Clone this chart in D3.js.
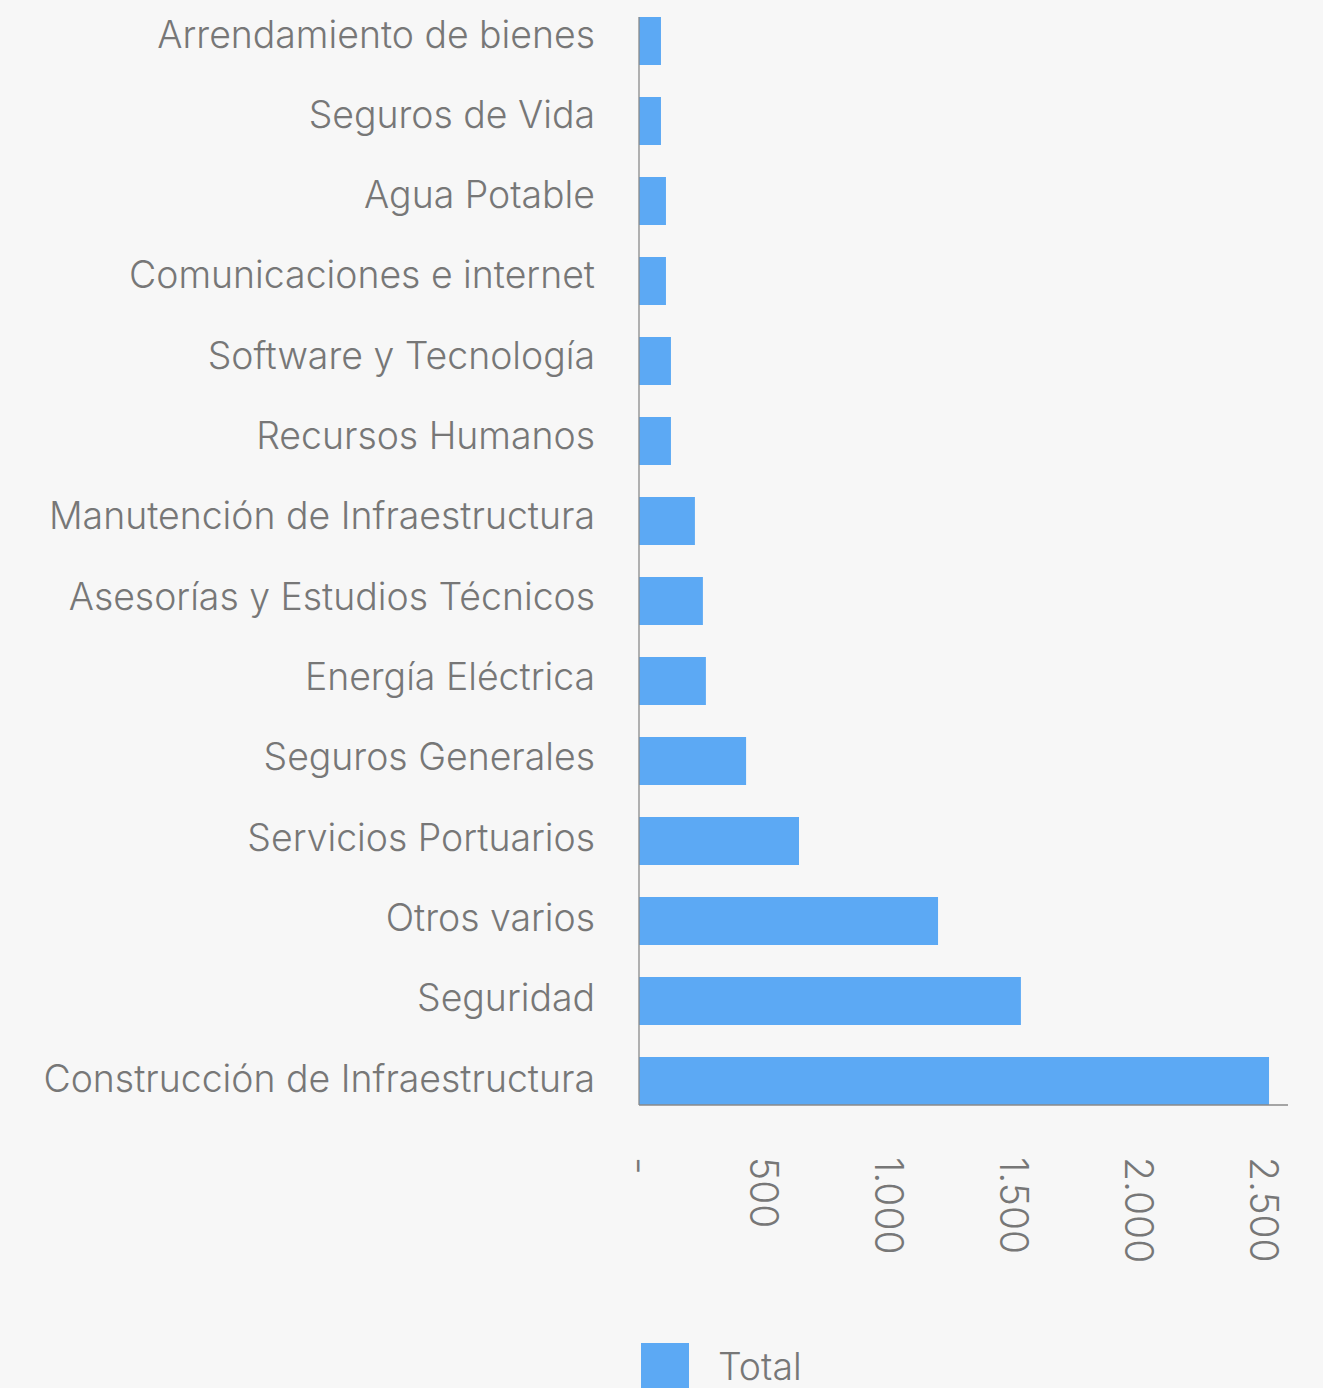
<!DOCTYPE html>
<html><head><meta charset="utf-8">
<script src="https://cdnjs.cloudflare.com/ajax/libs/d3/7.8.5/d3.min.js"></script>
<style>
html,body{margin:0;padding:0;background:#f7f7f7;}
svg{display:block;font-family:Inter, Roboto, "Noto Sans", sans-serif;}
</style></head><body>
<script>
const categories = ["Arrendamiento de bienes","Seguros de Vida","Agua Potable","Comunicaciones e internet","Software y Tecnología","Recursos Humanos","Manutención de Infraestructura","Asesorías y Estudios Técnicos","Energía Eléctrica","Seguros Generales","Servicios Portuarios","Otros varios","Seguridad","Construcción de Infraestructura"];
const values = [88,88,108,108,128,128,224,256,268,429,641,1198,1530,2524];
const tickValues = [0,500,1000,1500,2000,2500];
const tickLabels = ["-","500","1.000","1.500","2.000","2.500"];
const seriesName = "Total";

const W=1323,H=1388;
const svg=d3.select("body").append("svg").attr("width",W).attr("height",H);
svg.append("rect").attr("width",W).attr("height",H).attr("fill","#f7f7f7");

const x=d3.scaleLinear().domain([0,2600]).range([639,1288]);
const y=d3.scaleBand().domain(categories).range([1,1121]).paddingInner(0.4).paddingOuter(0.2);
const yLab=d3.scalePoint().domain(categories).range([34,1078]);
const color="#5ca9f4", txt="#777777", axisCol="#8a8a8a";

svg.append("g").selectAll("rect").data(values).join("rect")
  .attr("x",x(0)).attr("y",(d,i)=>y(categories[i]))
  .attr("width",d=>x(d)-x(0)).attr("height",y.bandwidth()).attr("fill",color);

svg.append("line").attr("x1",x(0)).attr("x2",x(0)).attr("y1",y(categories[0])).attr("y2",1105).attr("stroke",axisCol).attr("stroke-width",1.3);
svg.append("line").attr("x1",x(0)).attr("x2",1288).attr("y1",1105).attr("y2",1105).attr("stroke",axisCol).attr("stroke-width",1.3);

const fw=300, fs=37.4;
svg.append("g").selectAll("text").data(categories).join("text")
  .attr("x",595).attr("y",d=>yLab(d))
  .attr("text-anchor","end").attr("dominant-baseline","central")
  .attr("font-size",fs).attr("font-weight",fw).attr("fill",txt).text(d=>d);

svg.append("g").selectAll("text").data(tickValues).join("text")
  .attr("transform",d=>`translate(${x(d)+1},1157) rotate(90)`)
  .attr("text-anchor","start").attr("dominant-baseline","central")
  .attr("font-size",39).attr("font-weight",fw).attr("fill",txt).text((d,i)=>tickLabels[i]);

svg.append("rect").attr("x",641).attr("y",1343).attr("width",48).attr("height",48).attr("fill",color);
svg.append("text").attr("x",718).attr("y",1366).attr("dominant-baseline","central")
  .attr("font-size",fs).attr("font-weight",fw).attr("fill",txt).text(seriesName);
</script>
</body></html>
